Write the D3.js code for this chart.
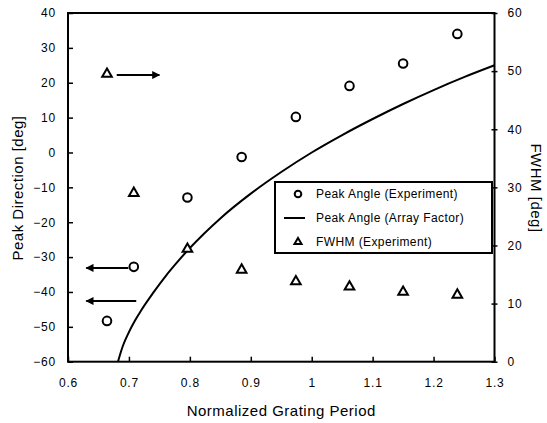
<!DOCTYPE html>
<html>
<head>
<meta charset="utf-8">
<script src="https://cdn.jsdelivr.net/npm/d3@7"></script>
<style>
  body { margin: 0; background: #fff; }
  svg { display: block; font-family: "Liberation Sans", Arial, sans-serif; }
</style>
</head>
<body>
<svg id="chart" width="547" height="423"></svg>
<script>
// normalized grating period of each measurement
const periods = [0.664, 0.708, 0.796, 0.885, 0.974, 1.062, 1.150, 1.239];
// peak angle measured [deg] (left axis)
const peakExp = [-48.3, -32.8, -12.9, -1.3, 10.2, 19.1, 25.5, 34.0];
// FWHM measured [deg] (right axis)
const fwhmExp = [49.5, 29.0, 19.4, 15.8, 13.8, 12.9, 12.0, 11.5];
// array factor curve
const afPeriod = [0.682, 0.69, 0.70, 0.71, 0.72, 0.74, 0.76, 0.78, 0.80, 0.85, 0.90, 0.95, 1.00, 1.05, 1.10, 1.15, 1.20, 1.25, 1.30];
const afAngle = [-60, -55.5, -51.5, -48.2, -45.3, -40.2, -35.5, -31.3, -27.4, -18.9, -11.8, -5.6, 0, 5.0, 9.6, 13.9, 17.9, 21.6, 25.0];

const xTicks = [0.6, 0.7, 0.8, 0.9, 1, 1.1, 1.2, 1.3];
const yLeftTicks = [-60, -50, -40, -30, -20, -10, 0, 10, 20, 30, 40];
const yRightTicks = [0, 10, 20, 30, 40, 50, 60];

const legendLabels = ["Peak Angle (Experiment)", "Peak Angle (Array Factor)", "FWHM (Experiment)"];

let svg = d3.select("#chart");
let plotLeft = 68, plotRight = 494.5, plotTop = 13, plotBottom = 361.7;

let x = d3.scaleLinear().domain([0.6, 1.3]).range([plotLeft, plotRight]);
let yL = d3.scaleLinear().domain([-60, 40]).range([plotBottom, plotTop]);
let yR = d3.scaleLinear().domain([0, 60]).range([plotBottom, plotTop]);

let defs = svg.append("defs");
defs.append("clipPath").attr("id", "plot-clip")
    .append("rect")
    .attr("x", plotLeft).attr("y", plotTop)
    .attr("width", plotRight - plotLeft).attr("height", plotBottom - plotTop);

// Axes
let xAxis = svg.append("g")
    .attr("transform", `translate(0,${plotBottom})`)
    .call(d3.axisBottom(x).tickValues(xTicks).tickSize(-5).tickPadding(17).tickFormat(d3.format("")));

let yAxisL = svg.append("g")
    .attr("transform", `translate(${plotLeft},0)`)
    .call(d3.axisLeft(yL).tickValues(yLeftTicks).tickSize(-5).tickPadding(12));

let yAxisR = svg.append("g")
    .attr("transform", `translate(${plotRight},0)`)
    .call(d3.axisRight(yR).tickValues(yRightTicks).tickSize(3).tickPadding(10));
yAxisR.selectAll(".tick line").attr("x1", -3);

[xAxis, yAxisL, yAxisR].forEach(g => {
    g.select(".domain").remove();
    g.selectAll(".tick line").attr("stroke", "#000").attr("stroke-width", 1.5);
    g.selectAll(".tick text")
        .attr("fill", "#000")
        .style("font-size", "12px")
        .style("letter-spacing", "0.8px");
});

// plot frame
svg.append("rect")
    .attr("x", plotLeft).attr("y", plotTop)
    .attr("width", plotRight - plotLeft).attr("height", plotBottom - plotTop)
    .attr("fill", "none").attr("stroke", "#000").attr("stroke-width", 2);

// Array factor line
let line = d3.line()
    .x((d, i) => x(afPeriod[i]))
    .y(d => yL(d))
    .curve(d3.curveMonotoneX);
svg.append("path")
    .attr("clip-path", "url(#plot-clip)")
    .attr("d", line(afAngle))
    .attr("fill", "none").attr("stroke", "#000").attr("stroke-width", 2);

// Experimental peak angles
svg.selectAll(".peak")
    .data(peakExp)
    .enter()
    .append("circle")
    .attr("class", "peak")
    .attr("cx", (d, i) => x(periods[i]))
    .attr("cy", d => yL(d))
    .attr("r", 4.3)
    .attr("fill", "#fff").attr("stroke", "#000").attr("stroke-width", 2);

let tri = d3.symbol().type(d3.symbolTriangle).size(40);

svg.selectAll(".fwhm")
    .data(fwhmExp)
    .enter()
    .append("path")
    .attr("class", "fwhm")
    .attr("transform", (d, i) => `translate(${x(periods[i])},${yR(d)})`)
    .attr("d", tri)
    .attr("fill", "#fff").attr("stroke", "#000").attr("stroke-width", 2);

// arrows telling which axis each series belongs to
defs.append("marker")
    .attr("id", "head")
    .attr("viewBox", "0 0 10 10")
    .attr("refX", 9).attr("refY", 5)
    .attr("markerWidth", 10).attr("markerHeight", 8)
    .attr("markerUnits", "userSpaceOnUse")
    .attr("orient", "auto")
    .append("path").attr("d", "M0,0L10,5L0,10Z").attr("fill", "#000");

const arrows = [
    {from: [0.680, 22.2], to: [0.750, 22.2]},
    {from: [0.699, -33.1], to: [0.630, -33.1]},
    {from: [0.712, -42.6], to: [0.630, -42.6]}
];
svg.selectAll(".arrow")
    .data(arrows)
    .enter()
    .append("line")
    .attr("class", "arrow")
    .attr("x1", d => x(d.from[0])).attr("y1", d => yL(d.from[1]))
    .attr("x2", d => x(d.to[0])).attr("y2", d => yL(d.to[1]))
    .attr("stroke", "#000").attr("stroke-width", 2)
    .attr("marker-end", "url(#head)");

// Legend
let legend = svg.append("g").attr("transform", "translate(275,182)");
legend.append("rect")
    .attr("width", 217).attr("height", 71)
    .attr("fill", "#fff").attr("stroke", "#000").attr("stroke-width", 2);

legend.append("circle")
    .attr("cx", 23).attr("cy", 12).attr("r", 3.3)
    .attr("fill", "#fff").attr("stroke", "#000").attr("stroke-width", 2);
legend.append("line")
    .attr("x1", 9).attr("x2", 30).attr("y1", 36).attr("y2", 36)
    .attr("stroke", "#000").attr("stroke-width", 2);
legend.append("path")
    .attr("transform", "translate(23,60)")
    .attr("d", d3.symbol().type(d3.symbolTriangle).size(22))
    .attr("fill", "#fff").attr("stroke", "#000").attr("stroke-width", 2);

legend.selectAll(".legend-text")
    .data(legendLabels)
    .enter()
    .append("text")
    .attr("class", "legend-text")
    .attr("x", 41)
    .attr("y", (d, i) => 12 + i * 24)
    .attr("dy", "0.35em")
    .style("font-size", "12px")
    .style("letter-spacing", "0.4px")
    .text(d => d);

// Axis labels
svg.append("text")
    .attr("x", (plotLeft + plotRight) / 2)
    .attr("y", 416)
    .attr("text-anchor", "middle")
    .style("font-size", "15px")
    .style("letter-spacing", "0.5px")
    .text("Normalized Grating Period");

svg.append("text")
    .attr("transform", "rotate(-90)")
    .attr("x", -188)
    .attr("y", 23)
    .attr("text-anchor", "middle")
    .style("font-size", "15px")
    .style("letter-spacing", "0.5px")
    .text("Peak Direction [deg]");

svg.append("text")
    .attr("transform", "rotate(90)")
    .attr("x", 188)
    .attr("y", -531)
    .attr("text-anchor", "middle")
    .style("font-size", "15px")
    .style("letter-spacing", "0.5px")
    .text("FWHM [deg]");
</script>
</body>
</html>
